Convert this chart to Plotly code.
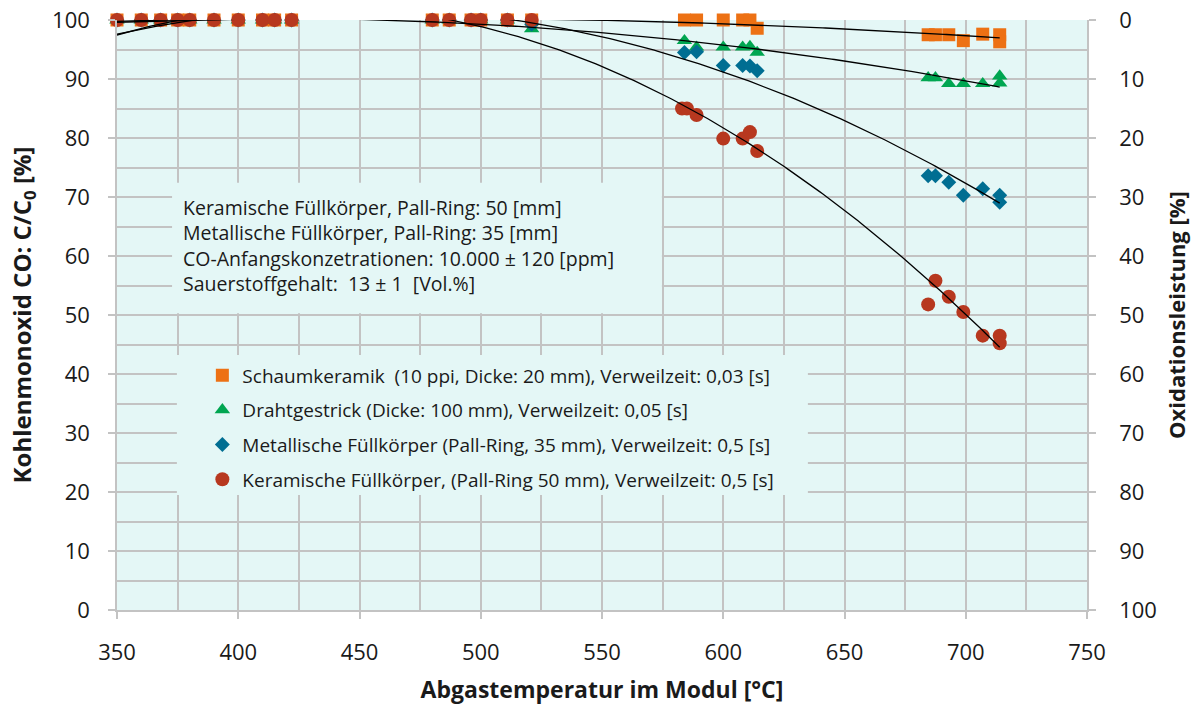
import numpy as np
import plotly.graph_objects as go

# ---------------- data ----------------
T_left = [350, 360, 368, 375, 380, 390, 400, 410, 415, 422, 480, 487, 496, 500, 511, 521]

sq_T = T_left + [584, 589, 600, 608, 611, 614, 684.5, 687.5, 693, 699, 707, 714, 714]
sq_C = [100, 100, 100, 100, 100, 100, 100, 100, 100, 100, 100, 100, 100, 100, 100, 100,
        100, 100, 100, 100, 100, 98.6, 97.5, 97.5, 97.5, 96.5, 97.6, 97.5, 96.3]

tri_T = T_left + [584, 589, 600, 608, 611, 614, 684.5, 687.5, 693, 699, 707, 714, 714]
tri_C = [100, 100, 100, 100, 100, 100, 100, 100, 100, 100, 100, 100, 100, 100, 100, 98.5,
         96.5, 95.4, 95.4, 95.4, 95.5, 94.5, 90.2, 90.2, 89.2, 89.2, 89.2, 90.5, 89.3]

dia_T = T_left + [584, 589, 600, 608, 611, 614, 684.5, 687.5, 693, 699, 707, 714, 714]
dia_C = [100, 100, 100, 100, 100, 100, 100, 100, 100, 100, 100, 100, 100, 100, 100, 99.3,
         94.5, 94.6, 92.3, 92.3, 92.2, 91.4, 73.6, 73.6, 72.5, 70.3, 71.4, 70.3, 69.1]

cir_T = T_left + [583, 585, 589, 600, 608, 611, 614, 684.5, 687.5, 693, 699, 707, 714, 714]
cir_C = [100, 100, 100, 100, 100, 100, 100, 100, 100, 100, 100, 100, 100, 100, 100, 100,
         85.0, 85.0, 83.9, 79.9, 79.9, 81.0, 77.8, 51.8, 55.8, 53.1, 50.5, 46.5, 46.5, 45.2]

series_names = [
    "Schaumkeramik \u00a0(10 ppi, Dicke: 20 mm), Verweilzeit: 0,03 [s]",
    "Drahtgestrick (Dicke: 100 mm), Verweilzeit: 0,05 [s]",
    "Metallische Füllkörper (Pall-Ring, 35 mm), Verweilzeit: 0,5 [s]",
    "Keramische Füllkörper, (Pall-Ring 50 mm), Verweilzeit: 0,5 [s]",
]
info_lines = [
    "Keramische Füllkörper, Pall-Ring: 50 [mm]",
    "Metallische Füllkörper, Pall-Ring: 35 [mm]",
    "CO-Anfangskonzetrationen: 10.000 ± 120 [ppm]",
    "Sauerstoffgehalt: \u00a013 ± 1 \u00a0[Vol.%]",
]
x_ticks = [350, 400, 450, 500, 550, 600, 650, 700, 750]
y_ticks = [0, 10, 20, 30, 40, 50, 60, 70, 80, 90, 100]

# ---------------- style ----------------
FONT = "Open Sans"
TXT = "#1a1a1a"
BG = "#E4F7F6"
GRID = "#C3C3C3"
colors = ["#ED7114", "#00A651", "#006E92", "#B7381F"]
symbols = ["square", "triangle-up", "diamond", "circle"]
sizes = [13, 13.5, 11.5, 14]

fig = go.Figure()
data = [(sq_T, sq_C), (tri_T, tri_C), (dia_T, dia_C), (cir_T, cir_C)]

for i, (T, C) in enumerate(data):
    fig.add_trace(go.Scatter(
        x=T, y=C, mode="markers", name=series_names[i],
        legendgroup="g%d" % i,
        marker=dict(symbol=symbols[i], size=sizes[i], color=colors[i], line=dict(width=0)),
        cliponaxis=False,
    ))

# polynomial (order 2) trend lines, as in the original spreadsheet chart
for i, (T, C) in enumerate(data):
    coef = np.polyfit(T, C, 2)
    tt = np.linspace(min(T), max(T), 300)
    fig.add_trace(go.Scatter(
        x=tt, y=np.polyval(coef, tt), mode="lines", showlegend=False,
        line=dict(color="black", width=1.3), hoverinfo="skip",
    ))

# right axis (Oxidationsleistung = 100 - C/C0)
fig.add_trace(go.Scatter(x=[None], y=[None], yaxis="y2", showlegend=False, hoverinfo="skip"))

# boxes behind the text block and the legend
fig.add_shape(type="rect", xref="x", yref="y", x0=372.7, x1=574.7, y0=50.3, y1=72.4,
              fillcolor=BG, line=dict(width=0), layer="between")
fig.add_shape(type="rect", xref="x", yref="y", x0=374.7, x1=634.9, y0=19.5, y1=43.2,
              fillcolor=BG, line=dict(width=0), layer="between")

fig.add_annotation(
    text="<br>".join(info_lines), xref="paper", yref="paper",
    x=0.066, y=0.709, xanchor="left", yanchor="top", align="left", showarrow=False,
    font=dict(family=FONT, size=19.5, color=TXT),
)

axis_common = dict(
    showline=True, linecolor=GRID, linewidth=1.5,
    ticks="outside", ticklen=7, tickcolor=GRID, tickwidth=1.5,
    tickfont=dict(family=FONT, size=22, color=TXT),
    zeroline=False, automargin=False, ticklabeloverflow="allow",
)

# plot area at x 117..1087, y 20..610 of the 1201x707 window
fig.update_layout(
    width=1201, height=707, template="none",
    margin=dict(l=117, r=114, t=20, b=97),
    paper_bgcolor="white", plot_bgcolor=BG,
    font=dict(family=FONT, color=TXT),
    xaxis=dict(
        range=[350, 750], tickvals=x_ticks,
        showgrid=True, gridcolor=GRID, gridwidth=1.5,
        minor=dict(dtick=25, tick0=350, showgrid=True, gridcolor=GRID, gridwidth=1.5, ticks=""),
        ticklabelstandoff=15,
        title=dict(text="<b>Abgastemperatur im Modul [°C]</b>", standoff=17,
                   font=dict(family=FONT, size=23, color=TXT)),
        **axis_common,
    ),
    yaxis=dict(
        range=[0, 100], tickvals=y_ticks,
        showgrid=True, gridcolor=GRID, gridwidth=1.5,
        minor=dict(dtick=5, tick0=0, showgrid=True, gridcolor=GRID, gridwidth=1.5, ticks=""),
        ticklabelstandoff=14,
        title=dict(text="<b>Kohlenmonoxid CO: C/C<sub>0</sub> [%]</b>", standoff=14,
                   font=dict(family=FONT, size=24, color=TXT)),
        **axis_common,
    ),
    yaxis2=dict(
        overlaying="y", side="right", range=[100, 0], tickvals=y_ticks,
        showgrid=False, ticklabelstandoff=19,
        title=dict(text="<b>Oxidationsleistung [%]</b>", standoff=14,
                   font=dict(family=FONT, size=22, color=TXT)),
        **axis_common,
    ),
    legend=dict(
        x=0.088, y=0.43, xanchor="left", yanchor="top",
        bgcolor="rgba(0,0,0,0)", borderwidth=0,
        font=dict(family=FONT, size=19, color=TXT),
        tracegroupgap=7,
    ),
)

fig.write_html("out.html", config={"displayModeBar": False},
               post_script="document.body.style.margin='0px';")
